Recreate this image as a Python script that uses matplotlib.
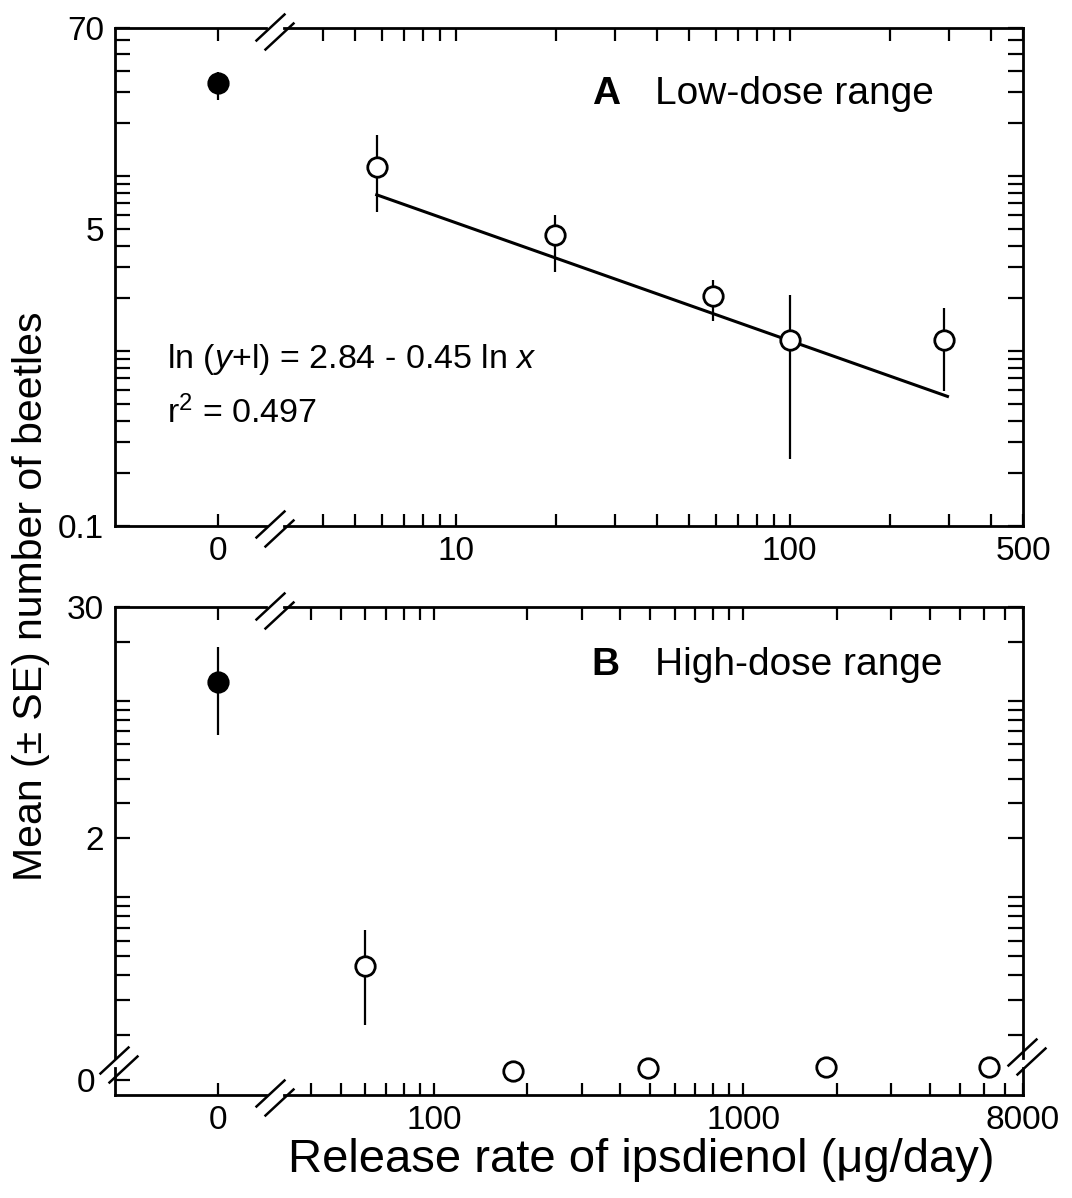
import matplotlib
matplotlib.use("Agg")
import matplotlib.pyplot as plt
from matplotlib.lines import Line2D
from matplotlib.ticker import NullLocator

plt.rcParams['font.family'] = ['Liberation Sans', 'DejaVu Sans']
plt.rcParams['mathtext.fontset'] = 'custom'
plt.rcParams['mathtext.rm'] = 'Liberation Sans'
plt.rcParams['mathtext.it'] = 'Liberation Sans:italic'
plt.rcParams['mathtext.bf'] = 'Liberation Sans:bold'

# ---------------- data ----------------
# Panel A (low-dose range)
a_ctrl_x = [0]
a_ctrl_mean = [34.0]
a_ctrl_lo = [27.2]
a_ctrl_hi = [39.3]
a_dose = [5.8, 19.8, 59, 100, 290]
a_mean = [11.3, 4.6, 2.05, 1.16, 1.16]
a_lo = [6.25, 2.84, 1.48, 0.24, 0.59]
a_hi = [17.2, 6.0, 2.56, 2.1, 1.77]
fit_x = [5.8, 297]
fit_y = [7.8, 0.55]

# Panel B (high-dose range)
b_ctrl_x = [0]
b_ctrl_mean = [12.5]
b_ctrl_lo = [6.7]
b_ctrl_hi = [18.8]
b_dose_up = [60]
b_mean_up = [0.446]
b_lo_up = [0.223]
b_hi_up = [0.68]
# doses whose means lie near zero (plotted on the lower, broken segment)
b_dose_zero = [180, 490, 1850, 6200]
b_mean_zero = [0.06, 0.08, 0.09, 0.09]

# ticks
a_yticks = [0.1, 0.2, 0.3, 0.4, 0.5, 0.6, 0.7, 0.8, 0.9,
            1, 2, 3, 4, 5, 6, 7, 8, 9, 10, 20, 30, 40, 50, 60, 70]
a_ylabels = {0.1: '0.1', 5: '5', 70: '70'}
a_xticks = [4, 5, 6, 7, 8, 9, 10, 20, 30, 40, 50, 60, 70, 80, 90,
            100, 200, 300, 400, 500]
a_xlabels = {10: '10', 100: '100', 500: '500'}
b_yticks = [0.2, 0.3, 0.4, 0.5, 0.6, 0.7, 0.8, 0.9,
            1, 2, 3, 4, 5, 6, 7, 8, 9, 10, 20, 30]
b_ylabels = {2: '2', 30: '30'}
b_xticks = [40, 50, 60, 70, 80, 90, 100, 200, 300, 400, 500, 600, 700,
            800, 900, 1000, 2000, 3000, 4000, 5000, 6000, 7000, 8000]
b_xlabels = {100: '100', 1000: '1000', 8000: '8000'}

# ---------------- figure ----------------
W, H = 1072, 1198
fig = plt.figure(figsize=(W / 100, H / 100), dpi=100)


def box(x0, y0, x1, y1):
    return [x0 / W, 1 - y1 / H, (x1 - x0) / W, (y1 - y0) / H]


LW_SPINE = 2.0
TICK_FS = 24
XL, XGAP_L, XGAP_R, XR = 115, 266, 284, 1023


def style(ax, hide):
    for s in ax.spines.values():
        s.set_linewidth(LW_SPINE)
    for s in hide:
        ax.spines[s].set_visible(False)
    ax.xaxis.set_minor_locator(NullLocator())
    ax.yaxis.set_minor_locator(NullLocator())
    ax.tick_params(axis='x', which='major', direction='in', length=9,
                   width=1.6, labelsize=TICK_FS, pad=7)
    ax.tick_params(axis='y', which='major', direction='in', length=11,
                   width=1.6, labelsize=TICK_FS, pad=8)
    ax.patch.set_alpha(0)


def set_ticks(axis_obj, ticks, labels):
    axis_obj.set_ticks(ticks)
    axis_obj.set_ticklabels([labels.get(t, '') for t in ticks])
    axis_obj.set_minor_locator(NullLocator())


eb_kw = dict(ecolor='black', elinewidth=1.6, capsize=0, ms=14, mew=2.0,
             mec='black', ls='none', marker='o', clip_on=False, zorder=5)

# ---- Panel A ----
aTop, aBot = 28, 526
aL = fig.add_axes(box(XL, aTop, XGAP_L, aBot))
aR = fig.add_axes(box(XGAP_R, aTop, XR, aBot))
for ax in (aL, aR):
    ax.set_yscale('log')
    ax.set_ylim(0.1, 70)
aL.set_xlim(-1.0, 0.466)
aR.set_xscale('log')
aR.set_xlim(3.06, 500)
style(aL, ['right'])
style(aR, ['left'])
set_ticks(aL.yaxis, a_yticks, a_ylabels)
set_ticks(aR.yaxis, a_yticks, {})
set_ticks(aL.xaxis, [0], {0: '0'})
set_ticks(aR.xaxis, a_xticks, a_xlabels)
aL.tick_params(axis='x', top=True, bottom=True)
aL.tick_params(axis='y', left=True, right=False)
aR.tick_params(axis='x', top=True, bottom=True)
aR.tick_params(axis='y', left=False, right=True, labelleft=False)

aL.errorbar(a_ctrl_x, a_ctrl_mean,
            yerr=[[m - l for m, l in zip(a_ctrl_mean, a_ctrl_lo)],
                  [h - m for m, h in zip(a_ctrl_mean, a_ctrl_hi)]],
            mfc='black', **eb_kw)
aR.plot(fit_x, fit_y, color='black', lw=2.2, zorder=3)
aR.errorbar(a_dose, a_mean,
            yerr=[[m - l for m, l in zip(a_mean, a_lo)],
                  [h - m for m, h in zip(a_mean, a_hi)]],
            mfc='white', **eb_kw)

# ---- Panel B ----
bTop, bUpBot, bLoTop, bBot = 607, 1058, 1068, 1095
bUL = fig.add_axes(box(XL, bTop, XGAP_L, bUpBot))
bUR = fig.add_axes(box(XGAP_R, bTop, XR, bUpBot))
bLL = fig.add_axes(box(XL, bLoTop, XGAP_L, bBot))
bLR = fig.add_axes(box(XGAP_R, bLoTop, XR, bBot))
for ax in (bUL, bUR):
    ax.set_yscale('log')
    ax.set_ylim(0.152, 30)
for ax in (bLL, bLR):
    ax.set_ylim(-0.1, 0.08)
for ax in (bUL, bLL):
    ax.set_xlim(-1.0, 0.466)
for ax in (bUR, bLR):
    ax.set_xscale('log')
    ax.set_xlim(32.8, 8000)
style(bUL, ['right', 'bottom'])
style(bUR, ['left', 'bottom'])
style(bLL, ['right', 'top'])
style(bLR, ['left', 'top'])

set_ticks(bUL.yaxis, b_yticks, b_ylabels)
set_ticks(bUR.yaxis, b_yticks, {})
set_ticks(bUL.xaxis, [0], {})
set_ticks(bUR.xaxis, b_xticks, {})
bUL.tick_params(axis='x', top=True, bottom=False, labelbottom=False)
bUR.tick_params(axis='x', top=True, bottom=False, labelbottom=False)
bUL.tick_params(axis='y', left=True, right=False)
bUR.tick_params(axis='y', left=False, right=True, labelleft=False)

set_ticks(bLL.yaxis, [0], {0: '0'})
bLR.set_yticks([])
set_ticks(bLL.xaxis, [0], {0: '0'})
set_ticks(bLR.xaxis, b_xticks, b_xlabels)
bLL.tick_params(axis='x', top=False, bottom=True)
bLR.tick_params(axis='x', top=False, bottom=True)
bLL.tick_params(axis='y', left=True, right=False, pad=14)

bUL.errorbar(b_ctrl_x, b_ctrl_mean,
             yerr=[[m - l for m, l in zip(b_ctrl_mean, b_ctrl_lo)],
                   [h - m for m, h in zip(b_ctrl_mean, b_ctrl_hi)]],
             mfc='black', **eb_kw)
bUR.errorbar(b_dose_up, b_mean_up,
             yerr=[[m - l for m, l in zip(b_mean_up, b_lo_up)],
                   [h - m for m, h in zip(b_mean_up, b_hi_up)]],
             mfc='white', **eb_kw)
bLR.plot(b_dose_zero, b_mean_zero, ls='none', marker='o', ms=14, mew=2.0,
         mec='black', mfc='white', clip_on=False, zorder=5)


# ---- break marks (figure pixel coords) ----
def brk(cx, cy, sep=9):
    for dx, dy in ((-sep / 2, -sep / 2), (sep / 2, sep / 2)):
        x0, y0 = cx + dx - 14, cy + dy + 13
        x1, y1 = cx + dx + 14, cy + dy - 13
        fig.add_artist(Line2D([x0 / W, x1 / W], [1 - y0 / H, 1 - y1 / H],
                              color='black', lw=1.8,
                              transform=fig.transFigure))


xb = (XGAP_L + XGAP_R) / 2
brk(xb, aTop + 4)
brk(xb, aBot + 3)
brk(xb, bTop + 4)
brk(xb, bBot + 3)
brk(XL + 4, (bUpBot + bLoTop) / 2 + 2)
brk(XR + 4, (bUpBot + bLoTop) / 2 - 6)

# ---- texts ----
def ftext(x, y, s, **kw):
    fig.text(x / W, 1 - y / H, s, **kw)


ftext(592, 104, 'A', fontsize=28, fontweight='bold', va='baseline')
ftext(655, 104, 'Low-dose range', fontsize=28, va='baseline')
ftext(591, 675, 'B', fontsize=28, fontweight='bold', va='baseline')
ftext(655, 675, 'High-dose range', fontsize=28, va='baseline')
ftext(167, 368, r'ln ($\mathit{y}$+l) = 2.84 - 0.45 ln $\mathit{x}$',
      fontsize=24.5, va='baseline')
ftext(167, 423, r'r$^2$ = 0.497', fontsize=24.5, va='baseline')
ftext(31, 596, 'Mean (± SE) number of beetles', fontsize=29.5,
      rotation=90, ha='center', va='center')
ftext(641, 1160, 'Release rate of ipsdienol (μg/day)', fontsize=34,
      ha='center', va='center')

fig.savefig('out.png', dpi=100)
